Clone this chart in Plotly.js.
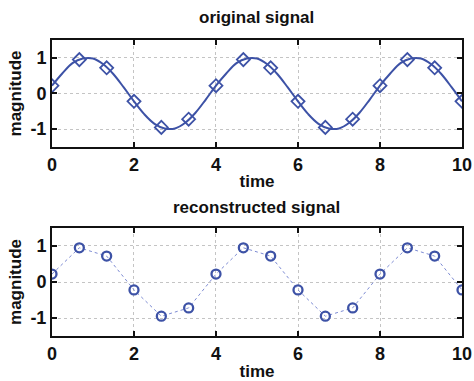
<!DOCTYPE html>
<html>
<head>
<meta charset="utf-8">
<script src="https://cdn.plot.ly/plotly-3.0.1.min.js"></script>
<style>html,body{margin:0;padding:0;background:#fff;}#chart{width:474px;height:381px;}</style>
</head>
<body>
<div id="chart"></div>
<script>
// Continuous "original signal" curve
var curveTime = [0,0.25,0.5,0.75,1,1.25,1.5,1.75,2,2.25,2.5,2.75,3,3.25,3.5,3.75,
  4,4.25,4.5,4.75,5,5.25,5.5,5.75,6,6.25,6.5,6.75,7,7.25,7.5,7.75,
  8,8.25,8.5,8.75,9,9.25,9.5,9.75,10];
var curveValues = [0.22,0.56,0.85,0.98,0.98,0.82,0.54,0.17,-0.22,-0.58,-0.85,-0.98,-0.98,-0.82,-0.54,-0.17,
  0.22,0.56,0.85,0.98,0.98,0.82,0.54,0.17,-0.22,-0.58,-0.85,-0.98,-0.98,-0.82,-0.54,-0.17,
  0.22,0.56,0.85,0.98,0.98,0.82,0.54,0.17,-0.22];
// Samples
var sampleTime = [0,0.667,1.333,2,2.667,3.333,4,4.667,5.333,6,6.667,7.333,8,8.667,9.333,10];
var sampleValues = [0.22,0.95,0.72,-0.22,-0.95,-0.72,0.22,0.95,0.72,-0.22,-0.95,-0.72,0.22,0.95,0.72,-0.22];
var xTicks = [0,2,4,6,8,10];
var yTicks = [-1,0,1];
var titles = ['original signal','reconstructed signal'];

var blue = '#3d52a6';
var fnt = {family:'Liberation Sans, Arial, sans-serif', size:18, color:'#111', weight:700};
var tfnt = {family:'Liberation Sans, Arial, sans-serif', size:17, color:'#111', weight:700};

var traces = [
  {x:curveTime, y:curveValues, mode:'lines', line:{color:blue, width:2, shape:'spline'}, xaxis:'x', yaxis:'y', hoverinfo:'skip'},
  {x:sampleTime, y:sampleValues, mode:'markers', marker:{symbol:'diamond-open', size:10, color:blue, line:{width:1.8, color:blue}}, xaxis:'x', yaxis:'y'},
  {x:sampleTime, y:sampleValues, mode:'lines+markers', line:{color:'#7d8bd3', width:1, dash:'dot'},
   marker:{symbol:'circle-open', size:9, color:blue, line:{width:2.3, color:blue}}, xaxis:'x2', yaxis:'y2'}
];

function xa(domain, anchor){
  return {domain:domain, anchor:anchor, range:[0,10], tickvals:xTicks, ticktext:xTicks.map(String),
    ticks:'inside', ticklen:5, tickwidth:2, tickcolor:'#111', showline:true, linecolor:'#111', linewidth:2, mirror:'allticks',
    showgrid:true, gridcolor:'#c4c4c4', griddash:'dot', gridwidth:1, zeroline:false, tickfont:fnt,
    title:{text:'time', font:tfnt, standoff:2}, fixedrange:true};
}
function ya(domain, anchor){
  return {domain:domain, anchor:anchor, range:[-1.5,1.5], tickvals:yTicks, ticktext:yTicks.map(String),
    ticks:'inside', ticklen:5, tickwidth:2, tickcolor:'#111', showline:true, linecolor:'#111', linewidth:2, mirror:'allticks',
    showgrid:true, gridcolor:'#c4c4c4', griddash:'dot', gridwidth:1, zeroline:false, tickfont:fnt,
    title:{text:'magnitude', font:tfnt, standoff:4}, fixedrange:true};
}

var layout = {
  width:474, height:381, margin:{l:0,r:0,t:0,b:0}, showlegend:false,
  paper_bgcolor:'#fff', plot_bgcolor:'#fff',
  xaxis: xa([0.1097,0.9747],'y'),
  yaxis: ya([0.6142,0.8950],'x'),
  xaxis2: xa([0.1097,0.9747],'y2'),
  yaxis2: ya([0.1181,0.4016],'x2'),
  annotations:[
    {text:titles[0], xref:'paper', yref:'paper', x:0.542, y:0.953, xanchor:'center', yanchor:'middle', showarrow:false, font:tfnt},
    {text:titles[1], xref:'paper', yref:'paper', x:0.542, y:0.455, xanchor:'center', yanchor:'middle', showarrow:false, font:tfnt}
  ]
};
Plotly.newPlot('chart', traces, layout, {staticPlot:true, displayModeBar:false});
</script>
</body>
</html>
